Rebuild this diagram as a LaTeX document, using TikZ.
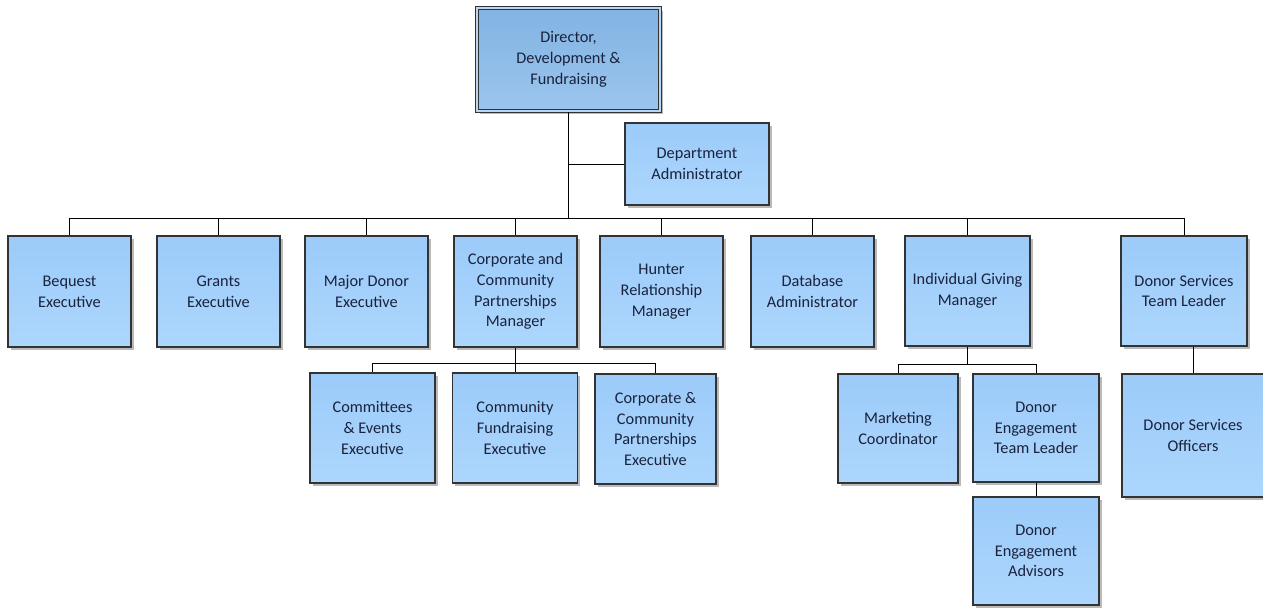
\documentclass[tikz,border=0pt]{standalone}
\usepackage{fontspec}
\setmainfont{Carlito}
\usetikzlibrary{shadows}
\definecolor{boxtop}{RGB}{156,203,250}
\definecolor{boxbot}{RGB}{172,214,252}
\definecolor{dirtop}{RGB}{130,179,227}
\definecolor{dirbot}{RGB}{155,197,237}
\definecolor{boxtext}{RGB}{26,34,60}
\begin{document}
\begin{tikzpicture}[x=1pt,y=-1pt,
	box/.style={draw=black!80,line width=1.1pt,top color=boxtop,bottom color=boxbot,
		minimum width=123pt,minimum height=111pt,inner sep=0pt,align=center,
		text=boxtext,font=\fontsize{16.3}{20.8}\selectfont,
		drop shadow={shadow xshift=2.5pt,shadow yshift=-2.5pt,fill=black!45,opacity=.6}},
	link/.style={draw=black,line width=1pt}]
	\useasboundingbox (0,0) rectangle (1263,608);
	% top
	\node[box,top color=dirtop,bottom color=dirbot,double=dirbot!70,double distance=2.5pt,
		minimum width=183pt,minimum height=103pt] (dir) at (568.5,59.5) {Director,\\Development \&\\Fundraising};
	\node[box,minimum width=144pt,minimum height=82pt] (admin) at (697,164) {Department\\Administrator};
	% first row
	\node[box] (beq) at (69.5,291.5) {Bequest\\Executive};
	\node[box] (grant) at (218.5,291.5) {Grants\\Executive};
	\node[box] (major) at (366.5,291.5) {Major Donor\\Executive};
	\node[box] (cpm) at (515.5,291.5) {Corporate and\\Community\\Partnerships\\Manager};
	\node[box] (hunter) at (661.5,291.5) {Hunter\\Relationship\\Manager};
	\node[box] (dba) at (812.5,291.5) {Database\\Administrator};
	\node[box,minimum width=125pt,minimum height=110pt] (igm) at (967.5,291) {Individual Giving\\Manager};
	\node[box,minimum width=126pt,minimum height=110pt] (dstl) at (1184,291) {Donor Services\\Team Leader};
	% second row
	\node[box,minimum width=125pt,minimum height=110pt] (cee) at (372.5,428) {Committees\\\& Events\\Executive};
	\node[box,minimum width=125pt,minimum height=110pt] (cfe) at (515,428) {Community\\Fundraising\\Executive};
	\node[box,minimum width=121pt,minimum height=110pt] (ccpe) at (655.5,429) {Corporate \&\\Community\\Partnerships\\Executive};
	\node[box,minimum width=120pt,minimum height=109pt] (mkt) at (898,428.5) {Marketing\\Coordinator};
	\node[box,minimum width=126pt,minimum height=108pt] (detl) at (1036,428) {Donor\\Engagement\\Team Leader};
	\node[box,minimum width=126pt,minimum height=108pt] (dea) at (1036,551) {Donor\\Engagement\\Advisors};
	\node[box,minimum width=142pt,minimum height=123pt] (dso) at (1193,435.5) {Donor Services\\Officers};
	% connectors
	\coordinate (hub) at (568.5,218);
	\coordinate (cphub) at (515.5,363);
	\coordinate (ighub) at (967.5,364);
	\draw[link] (dir.south) -- (hub);
	\draw[link] (dir.south |- admin.west) -- (admin.west);
	\foreach \n in {beq,grant,major,cpm,hunter,dba,igm,dstl}
		\draw[link] (hub) -| (\n.north);
	\draw[link] (cpm.south) -- (cphub);
	\foreach \n in {cee,cfe,ccpe}
		\draw[link] (cphub) -| (\n.north);
	\draw[link] (igm.south) -- (ighub);
	\foreach \n in {mkt,detl}
		\draw[link] (ighub) -| (\n.north);
	\draw[link] (detl.south) -- (dea.north);
	\draw[link] (dstl.south -| dso.north) -- (dso.north);
\end{tikzpicture}
\end{document}
